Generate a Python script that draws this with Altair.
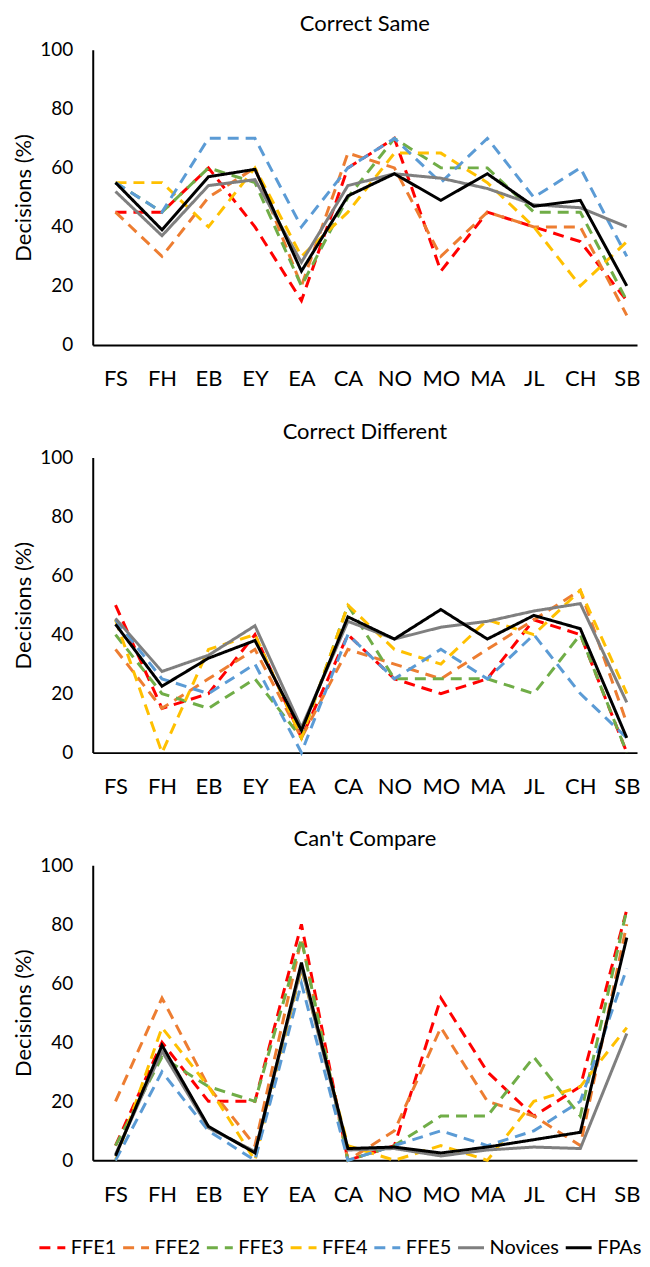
import json
import altair as alt
import pandas as pd

categories = ["FS", "FH", "EB", "EY", "EA", "CA", "NO", "MO", "MA", "JL", "CH", "SB"]
series = ["FFE1", "FFE2", "FFE3", "FFE4", "FFE5", "Novices", "FPAs"]
colors = ["#FF0000", "#ED7D31", "#70AD47", "#FFC000", "#5B9BD5", "#7F7F7F", "#000000"]
dashes = [[11, 7], [11, 7], [11, 7], [11, 7], [11, 7], [1, 0], [1, 0]]
panel_titles = ["Correct Same", "Correct Different", "Can't Compare"]
y_ticks = [0, 20, 40, 60, 80, 100]

# Correct Same
cs_ffe1 = [45, 45, 60, 40, 15, 60, 70, 25, 45, 40, 35, 15]
cs_ffe2 = [45, 30, 50, 60, 20, 65, 60, 30, 45, 40, 40, 10]
cs_ffe3 = [55, 45, 60, 55, 20, 50, 70, 60, 60, 45, 45, 15]
cs_ffe4 = [55, 55, 40, 60, 30, 45, 65, 65, 55, 40, 20, 35]
cs_ffe5 = [55, 45, 70, 70, 40, 60, 70, 55, 70, 50, 60, 30]
cs_novices = [52, 37, 54, 56, 28, 54, 58, 56.5, 53, 47.5, 46.5, 40]
cs_fpas = [55, 39, 57, 59.5, 25, 50.5, 58, 49, 58, 47, 49, 20]

# Correct Different
cd_ffe1 = [50, 15, 20, 40, 5, 40, 25, 20, 25, 45, 40, 0]
cd_ffe2 = [35, 15, 25, 35, 5, 35, 30, 25, 35, 45, 55, 10]
cd_ffe3 = [40, 20, 15, 25, 5, 50, 25, 25, 25, 20, 40, 0]
cd_ffe4 = [45, 0, 35, 40, 5, 50, 35, 30, 45, 40, 55, 20]
cd_ffe5 = [45, 25, 20, 30, 0, 40, 25, 35, 25, 40, 20, 5]
cd_novices = [45.5, 27.5, 33, 43, 8.5, 44.5, 38.5, 42.5, 44.5, 48, 50.5, 17]
cd_fpas = [43.5, 22.5, 32, 38, 7.5, 46, 38.5, 48.5, 38.5, 46.5, 42, 5]

# Can't Compare
cc_ffe1 = [5, 40, 20, 20, 80, 0, 5, 55, 30, 15, 25, 85]
cc_ffe2 = [20, 55, 25, 5, 75, 0, 10, 45, 20, 15, 5, 80]
cc_ffe3 = [5, 35, 25, 20, 75, 0, 5, 15, 15, 35, 15, 85]
cc_ffe4 = [0, 45, 25, 0, 65, 5, 0, 5, 0, 20, 25, 45]
cc_ffe5 = [0, 30, 10, 0, 60, 0, 5, 10, 5, 10, 20, 65]
cc_novices = [2, 37, 11, 3, 65.5, 3.5, 4, 1.5, 3.5, 4.5, 4, 43]
cc_fpas = [1.5, 39, 11.5, 2.5, 67, 4, 4.5, 2.5, 4.5, 7, 9.5, 75.5]

panels = [
    [cs_ffe1, cs_ffe2, cs_ffe3, cs_ffe4, cs_ffe5, cs_novices, cs_fpas],
    [cd_ffe1, cd_ffe2, cd_ffe3, cd_ffe4, cd_ffe5, cd_novices, cd_fpas],
    [cc_ffe1, cc_ffe2, cc_ffe3, cc_ffe4, cc_ffe5, cc_novices, cc_fpas],
]

FONT = "Lato"
label_expr = json.dumps(categories) + "[datum.value]"

legend = alt.Legend(title=None, orient="none", legendX=-55, legendY=1187,
                    direction="horizontal", columnPadding=0, labelOffset=4,
                    symbolType="stroke", symbolSize=676, symbolStrokeWidth=3,
                    labelFontSize=20, padding=0)


def make_panel(title, arrays):
    rows = []
    for s_i, (name, vals) in enumerate(zip(series, arrays)):
        for c_i, v in enumerate(vals):
            rows.append({"idx": c_i, "cat": categories[c_i], "series": name,
                         "order": s_i, "value": v})
    df = pd.DataFrame(rows)
    return (
        alt.Chart(df)
        .mark_line(strokeWidth=3, strokeCap="butt")
        .encode(
            x=alt.X("idx:Q",
                    scale=alt.Scale(domain=[-0.49, 11.22], nice=False, zero=False),
                    axis=alt.Axis(values=list(range(12)), labelExpr=label_expr,
                                  title=None, grid=False, ticks=False,
                                  labelPadding=24, labelFontSize=22)),
            y=alt.Y("value:Q",
                    scale=alt.Scale(domain=[0, 100], nice=False),
                    axis=alt.Axis(values=y_ticks, title="Decisions (%)",
                                  grid=False, ticks=False, labelPadding=20,
                                  labelFontSize=19, titleFontSize=22,
                                  titleFontWeight="normal", titlePadding=4)),
            color=alt.Color("series:N",
                            scale=alt.Scale(domain=series, range=colors),
                            legend=legend),
            strokeDash=alt.StrokeDash("series:N",
                                      scale=alt.Scale(domain=series, range=dashes),
                                      legend=legend),
            order=alt.Order("order:Q"),
        )
        .properties(width=546, height=296,
                    title=alt.TitleParams(title, fontSize=22, fontWeight="normal",
                                          font=FONT, color="#000000", offset=5))
    )


charts = [make_panel(t, a) for t, a in zip(panel_titles, panels)]

chart = (
    alt.vconcat(*charts, spacing=31)
    .properties(padding={"left": 4, "top": 3, "right": 0, "bottom": 0})
    .configure_view(stroke=None)
    .configure_axis(labelFont=FONT, titleFont=FONT, labelColor="#000000",
                    titleColor="#000000", domainColor="#000000", domainWidth=2)
    .configure_legend(labelFont=FONT, labelFontSize=20, labelColor="#000000",
                      symbolType="stroke", symbolSize=676, symbolStrokeWidth=3,
                      labelOffset=4, columnPadding=0, padding=0)
)

chart.save("out.html", embed_options={"renderer": "svg", "actions": False})
